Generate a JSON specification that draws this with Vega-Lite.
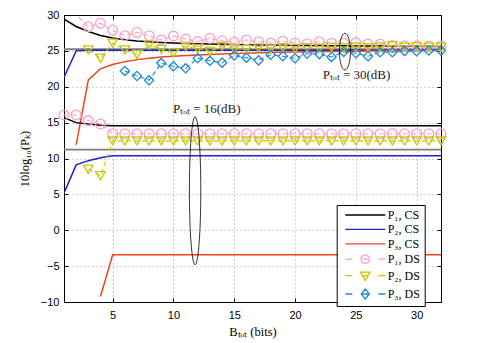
{
  "$schema": "https://vega.github.io/schema/vega-lite/v6.json",
  "width": 377,
  "height": 287,
  "autosize": "none",
  "padding": {"left": 64, "top": 15, "right": 44, "bottom": 41},
  "background": "white",
  "config": {"view": {"stroke": "black", "strokeWidth": 1}},
  "datasets": {
    "ref": [
      {"x": 1, "y": 25.23, "g": "30"}, {"x": 32, "y": 25.23, "g": "30"},
      {"x": 1, "y": 11.23, "g": "16"}, {"x": 32, "y": 11.23, "g": "16"}
    ],
    "cs": [
      {"s":"P₁, CS","g":"30","x":1,"y":29.44},{"s":"P₁, CS","g":"30","x":2,"y":28.4},{"s":"P₁, CS","g":"30","x":3,"y":27.7},{"s":"P₁, CS","g":"30","x":4,"y":27.15},{"s":"P₁, CS","g":"30","x":5,"y":26.8},{"s":"P₁, CS","g":"30","x":6,"y":26.55},{"s":"P₁, CS","g":"30","x":7,"y":26.38},{"s":"P₁, CS","g":"30","x":8,"y":26.26},{"s":"P₁, CS","g":"30","x":9,"y":26.17},{"s":"P₁, CS","g":"30","x":10,"y":26.1},{"s":"P₁, CS","g":"30","x":11,"y":26.04},{"s":"P₁, CS","g":"30","x":12,"y":25.99},{"s":"P₁, CS","g":"30","x":13,"y":25.95},{"s":"P₁, CS","g":"30","x":14,"y":25.91},{"s":"P₁, CS","g":"30","x":15,"y":25.88},{"s":"P₁, CS","g":"30","x":16,"y":25.85},{"s":"P₁, CS","g":"30","x":17,"y":25.82},{"s":"P₁, CS","g":"30","x":18,"y":25.8},{"s":"P₁, CS","g":"30","x":19,"y":25.78},{"s":"P₁, CS","g":"30","x":20,"y":25.76},{"s":"P₁, CS","g":"30","x":21,"y":25.74},{"s":"P₁, CS","g":"30","x":22,"y":25.72},{"s":"P₁, CS","g":"30","x":23,"y":25.71},{"s":"P₁, CS","g":"30","x":24,"y":25.7},{"s":"P₁, CS","g":"30","x":25,"y":25.69},{"s":"P₁, CS","g":"30","x":26,"y":25.68},{"s":"P₁, CS","g":"30","x":27,"y":25.67},{"s":"P₁, CS","g":"30","x":28,"y":25.66},{"s":"P₁, CS","g":"30","x":29,"y":25.65},{"s":"P₁, CS","g":"30","x":30,"y":25.64},{"s":"P₁, CS","g":"30","x":31,"y":25.63},{"s":"P₁, CS","g":"30","x":32,"y":25.62},
      {"s":"P₂, CS","g":"30","x":1,"y":21.32},{"s":"P₂, CS","g":"30","x":2,"y":25.0},{"s":"P₂, CS","g":"30","x":3,"y":25.08},{"s":"P₂, CS","g":"30","x":4,"y":25.08},{"s":"P₂, CS","g":"30","x":5,"y":25.08},{"s":"P₂, CS","g":"30","x":6,"y":25.08},{"s":"P₂, CS","g":"30","x":7,"y":25.08},{"s":"P₂, CS","g":"30","x":8,"y":25.08},{"s":"P₂, CS","g":"30","x":9,"y":25.08},{"s":"P₂, CS","g":"30","x":10,"y":25.08},{"s":"P₂, CS","g":"30","x":11,"y":25.08},{"s":"P₂, CS","g":"30","x":12,"y":25.08},{"s":"P₂, CS","g":"30","x":13,"y":25.08},{"s":"P₂, CS","g":"30","x":14,"y":25.08},{"s":"P₂, CS","g":"30","x":15,"y":25.08},{"s":"P₂, CS","g":"30","x":16,"y":25.08},{"s":"P₂, CS","g":"30","x":17,"y":25.08},{"s":"P₂, CS","g":"30","x":18,"y":25.08},{"s":"P₂, CS","g":"30","x":19,"y":25.08},{"s":"P₂, CS","g":"30","x":20,"y":25.08},{"s":"P₂, CS","g":"30","x":21,"y":25.08},{"s":"P₂, CS","g":"30","x":22,"y":25.08},{"s":"P₂, CS","g":"30","x":23,"y":25.08},{"s":"P₂, CS","g":"30","x":24,"y":25.08},{"s":"P₂, CS","g":"30","x":25,"y":25.08},{"s":"P₂, CS","g":"30","x":26,"y":25.08},{"s":"P₂, CS","g":"30","x":27,"y":25.08},{"s":"P₂, CS","g":"30","x":28,"y":25.08},{"s":"P₂, CS","g":"30","x":29,"y":25.08},{"s":"P₂, CS","g":"30","x":30,"y":25.08},{"s":"P₂, CS","g":"30","x":31,"y":25.08},{"s":"P₂, CS","g":"30","x":32,"y":25.08},
      {"s":"P₃, CS","g":"30","x":2,"y":11.9},{"s":"P₃, CS","g":"30","x":3,"y":20.95},{"s":"P₃, CS","g":"30","x":4,"y":22.5},{"s":"P₃, CS","g":"30","x":5,"y":23.1},{"s":"P₃, CS","g":"30","x":6,"y":23.5},{"s":"P₃, CS","g":"30","x":7,"y":23.78},{"s":"P₃, CS","g":"30","x":8,"y":23.98},{"s":"P₃, CS","g":"30","x":9,"y":24.13},{"s":"P₃, CS","g":"30","x":10,"y":24.25},{"s":"P₃, CS","g":"30","x":11,"y":24.35},{"s":"P₃, CS","g":"30","x":12,"y":24.44},{"s":"P₃, CS","g":"30","x":13,"y":24.51},{"s":"P₃, CS","g":"30","x":14,"y":24.57},{"s":"P₃, CS","g":"30","x":15,"y":24.63},{"s":"P₃, CS","g":"30","x":16,"y":24.68},{"s":"P₃, CS","g":"30","x":17,"y":24.73},{"s":"P₃, CS","g":"30","x":18,"y":24.77},{"s":"P₃, CS","g":"30","x":19,"y":24.81},{"s":"P₃, CS","g":"30","x":20,"y":24.84},{"s":"P₃, CS","g":"30","x":21,"y":24.87},{"s":"P₃, CS","g":"30","x":22,"y":24.9},{"s":"P₃, CS","g":"30","x":23,"y":24.92},{"s":"P₃, CS","g":"30","x":24,"y":24.94},{"s":"P₃, CS","g":"30","x":25,"y":24.96},{"s":"P₃, CS","g":"30","x":26,"y":24.98},{"s":"P₃, CS","g":"30","x":27,"y":25.0},{"s":"P₃, CS","g":"30","x":28,"y":25.01},{"s":"P₃, CS","g":"30","x":29,"y":25.03},{"s":"P₃, CS","g":"30","x":30,"y":25.04},{"s":"P₃, CS","g":"30","x":31,"y":25.05},{"s":"P₃, CS","g":"30","x":32,"y":25.06},
      {"s":"P₁, CS","g":"16","x":1,"y":15.7},{"s":"P₁, CS","g":"16","x":2,"y":15.0},{"s":"P₁, CS","g":"16","x":3,"y":14.8},{"s":"P₁, CS","g":"16","x":4,"y":14.65},{"s":"P₁, CS","g":"16","x":5,"y":14.57},{"s":"P₁, CS","g":"16","x":6,"y":14.57},{"s":"P₁, CS","g":"16","x":7,"y":14.57},{"s":"P₁, CS","g":"16","x":8,"y":14.57},{"s":"P₁, CS","g":"16","x":9,"y":14.57},{"s":"P₁, CS","g":"16","x":10,"y":14.57},{"s":"P₁, CS","g":"16","x":11,"y":14.57},{"s":"P₁, CS","g":"16","x":12,"y":14.57},{"s":"P₁, CS","g":"16","x":13,"y":14.57},{"s":"P₁, CS","g":"16","x":14,"y":14.57},{"s":"P₁, CS","g":"16","x":15,"y":14.57},{"s":"P₁, CS","g":"16","x":16,"y":14.57},{"s":"P₁, CS","g":"16","x":17,"y":14.57},{"s":"P₁, CS","g":"16","x":18,"y":14.57},{"s":"P₁, CS","g":"16","x":19,"y":14.57},{"s":"P₁, CS","g":"16","x":20,"y":14.57},{"s":"P₁, CS","g":"16","x":21,"y":14.57},{"s":"P₁, CS","g":"16","x":22,"y":14.57},{"s":"P₁, CS","g":"16","x":23,"y":14.57},{"s":"P₁, CS","g":"16","x":24,"y":14.57},{"s":"P₁, CS","g":"16","x":25,"y":14.57},{"s":"P₁, CS","g":"16","x":26,"y":14.57},{"s":"P₁, CS","g":"16","x":27,"y":14.57},{"s":"P₁, CS","g":"16","x":28,"y":14.57},{"s":"P₁, CS","g":"16","x":29,"y":14.57},{"s":"P₁, CS","g":"16","x":30,"y":14.57},{"s":"P₁, CS","g":"16","x":31,"y":14.57},{"s":"P₁, CS","g":"16","x":32,"y":14.57},
      {"s":"P₂, CS","g":"16","x":1,"y":5.17},{"s":"P₂, CS","g":"16","x":2,"y":9.11},{"s":"P₂, CS","g":"16","x":3,"y":9.7},{"s":"P₂, CS","g":"16","x":4,"y":10.1},{"s":"P₂, CS","g":"16","x":5,"y":10.38},{"s":"P₂, CS","g":"16","x":6,"y":10.38},{"s":"P₂, CS","g":"16","x":7,"y":10.38},{"s":"P₂, CS","g":"16","x":8,"y":10.38},{"s":"P₂, CS","g":"16","x":9,"y":10.38},{"s":"P₂, CS","g":"16","x":10,"y":10.38},{"s":"P₂, CS","g":"16","x":11,"y":10.38},{"s":"P₂, CS","g":"16","x":12,"y":10.38},{"s":"P₂, CS","g":"16","x":13,"y":10.38},{"s":"P₂, CS","g":"16","x":14,"y":10.38},{"s":"P₂, CS","g":"16","x":15,"y":10.38},{"s":"P₂, CS","g":"16","x":16,"y":10.38},{"s":"P₂, CS","g":"16","x":17,"y":10.38},{"s":"P₂, CS","g":"16","x":18,"y":10.38},{"s":"P₂, CS","g":"16","x":19,"y":10.38},{"s":"P₂, CS","g":"16","x":20,"y":10.38},{"s":"P₂, CS","g":"16","x":21,"y":10.38},{"s":"P₂, CS","g":"16","x":22,"y":10.38},{"s":"P₂, CS","g":"16","x":23,"y":10.38},{"s":"P₂, CS","g":"16","x":24,"y":10.38},{"s":"P₂, CS","g":"16","x":25,"y":10.38},{"s":"P₂, CS","g":"16","x":26,"y":10.38},{"s":"P₂, CS","g":"16","x":27,"y":10.38},{"s":"P₂, CS","g":"16","x":28,"y":10.38},{"s":"P₂, CS","g":"16","x":29,"y":10.38},{"s":"P₂, CS","g":"16","x":30,"y":10.38},{"s":"P₂, CS","g":"16","x":31,"y":10.38},{"s":"P₂, CS","g":"16","x":32,"y":10.38},
      {"s":"P₃, CS","g":"16","x":4,"y":-9.23},{"s":"P₃, CS","g":"16","x":5,"y":-3.43},{"s":"P₃, CS","g":"16","x":6,"y":-3.43},{"s":"P₃, CS","g":"16","x":7,"y":-3.43},{"s":"P₃, CS","g":"16","x":8,"y":-3.43},{"s":"P₃, CS","g":"16","x":9,"y":-3.43},{"s":"P₃, CS","g":"16","x":10,"y":-3.43},{"s":"P₃, CS","g":"16","x":11,"y":-3.43},{"s":"P₃, CS","g":"16","x":12,"y":-3.43},{"s":"P₃, CS","g":"16","x":13,"y":-3.43},{"s":"P₃, CS","g":"16","x":14,"y":-3.43},{"s":"P₃, CS","g":"16","x":15,"y":-3.43},{"s":"P₃, CS","g":"16","x":16,"y":-3.43},{"s":"P₃, CS","g":"16","x":17,"y":-3.43},{"s":"P₃, CS","g":"16","x":18,"y":-3.43},{"s":"P₃, CS","g":"16","x":19,"y":-3.43},{"s":"P₃, CS","g":"16","x":20,"y":-3.43},{"s":"P₃, CS","g":"16","x":21,"y":-3.43},{"s":"P₃, CS","g":"16","x":22,"y":-3.43},{"s":"P₃, CS","g":"16","x":23,"y":-3.43},{"s":"P₃, CS","g":"16","x":24,"y":-3.43},{"s":"P₃, CS","g":"16","x":25,"y":-3.43},{"s":"P₃, CS","g":"16","x":26,"y":-3.43},{"s":"P₃, CS","g":"16","x":27,"y":-3.43},{"s":"P₃, CS","g":"16","x":28,"y":-3.43},{"s":"P₃, CS","g":"16","x":29,"y":-3.43},{"s":"P₃, CS","g":"16","x":30,"y":-3.43},{"s":"P₃, CS","g":"16","x":31,"y":-3.43},{"s":"P₃, CS","g":"16","x":32,"y":-3.43}
    ],
    "ds": [
      {"s":"P₁, DS","g":"30","x":1,"y":30.1},{"s":"P₁, DS","g":"30","x":2,"y":30.1},{"s":"P₁, DS","g":"30","x":3,"y":28.37},{"s":"P₁, DS","g":"30","x":4,"y":28.84},{"s":"P₁, DS","g":"30","x":5,"y":27.9},{"s":"P₁, DS","g":"30","x":6,"y":27.12},{"s":"P₁, DS","g":"30","x":7,"y":27.59},{"s":"P₁, DS","g":"30","x":8,"y":27.12},{"s":"P₁, DS","g":"30","x":9,"y":26.52},{"s":"P₁, DS","g":"30","x":10,"y":27.08},{"s":"P₁, DS","g":"30","x":11,"y":26.64},{"s":"P₁, DS","g":"30","x":12,"y":26.3},{"s":"P₁, DS","g":"30","x":13,"y":26.75},{"s":"P₁, DS","g":"30","x":14,"y":26.4},{"s":"P₁, DS","g":"30","x":15,"y":26.2},{"s":"P₁, DS","g":"30","x":16,"y":26.52},{"s":"P₁, DS","g":"30","x":17,"y":26.28},{"s":"P₁, DS","g":"30","x":18,"y":26.1},{"s":"P₁, DS","g":"30","x":19,"y":26.35},{"s":"P₁, DS","g":"30","x":20,"y":26.1},{"s":"P₁, DS","g":"30","x":21,"y":26.0},{"s":"P₁, DS","g":"30","x":22,"y":26.28},{"s":"P₁, DS","g":"30","x":23,"y":26.06},{"s":"P₁, DS","g":"30","x":24,"y":26.06},{"s":"P₁, DS","g":"30","x":25,"y":26.15},{"s":"P₁, DS","g":"30","x":26,"y":25.95},{"s":"P₁, DS","g":"30","x":27,"y":25.92},{"s":"P₁, DS","g":"30","x":28,"y":25.75},{"s":"P₁, DS","g":"30","x":29,"y":25.7},{"s":"P₁, DS","g":"30","x":30,"y":25.7},{"s":"P₁, DS","g":"30","x":31,"y":25.65},{"s":"P₁, DS","g":"30","x":32,"y":25.65},
      {"s":"P₂, DS","g":"30","x":3,"y":25.13},{"s":"P₂, DS","g":"30","x":4,"y":23.97},{"s":"P₂, DS","g":"30","x":5,"y":26.06},{"s":"P₂, DS","g":"30","x":6,"y":25.13},{"s":"P₂, DS","g":"30","x":7,"y":24.5},{"s":"P₂, DS","g":"30","x":8,"y":25.82},{"s":"P₂, DS","g":"30","x":9,"y":25.2},{"s":"P₂, DS","g":"30","x":10,"y":24.75},{"s":"P₂, DS","g":"30","x":11,"y":25.62},{"s":"P₂, DS","g":"30","x":12,"y":25.3},{"s":"P₂, DS","g":"30","x":13,"y":24.95},{"s":"P₂, DS","g":"30","x":14,"y":25.62},{"s":"P₂, DS","g":"30","x":15,"y":25.3},{"s":"P₂, DS","g":"30","x":16,"y":25.2},{"s":"P₂, DS","g":"30","x":17,"y":25.4},{"s":"P₂, DS","g":"30","x":18,"y":25.2},{"s":"P₂, DS","g":"30","x":19,"y":25.45},{"s":"P₂, DS","g":"30","x":20,"y":25.3},{"s":"P₂, DS","g":"30","x":21,"y":25.45},{"s":"P₂, DS","g":"30","x":22,"y":25.35},{"s":"P₂, DS","g":"30","x":23,"y":25.5},{"s":"P₂, DS","g":"30","x":24,"y":25.4},{"s":"P₂, DS","g":"30","x":25,"y":25.5},{"s":"P₂, DS","g":"30","x":26,"y":25.45},{"s":"P₂, DS","g":"30","x":27,"y":25.55},{"s":"P₂, DS","g":"30","x":28,"y":25.7},{"s":"P₂, DS","g":"30","x":29,"y":25.5},{"s":"P₂, DS","g":"30","x":30,"y":25.55},{"s":"P₂, DS","g":"30","x":31,"y":25.5},{"s":"P₂, DS","g":"30","x":32,"y":25.5},
      {"s":"P₃, DS","g":"30","x":6,"y":22.2},{"s":"P₃, DS","g":"30","x":7,"y":21.5},{"s":"P₃, DS","g":"30","x":8,"y":20.9},{"s":"P₃, DS","g":"30","x":9,"y":23.3},{"s":"P₃, DS","g":"30","x":10,"y":22.85},{"s":"P₃, DS","g":"30","x":11,"y":22.57},{"s":"P₃, DS","g":"30","x":12,"y":23.97},{"s":"P₃, DS","g":"30","x":13,"y":23.62},{"s":"P₃, DS","g":"30","x":14,"y":23.36},{"s":"P₃, DS","g":"30","x":15,"y":24.35},{"s":"P₃, DS","g":"30","x":16,"y":24.05},{"s":"P₃, DS","g":"30","x":17,"y":23.68},{"s":"P₃, DS","g":"30","x":18,"y":24.45},{"s":"P₃, DS","g":"30","x":19,"y":24.25},{"s":"P₃, DS","g":"30","x":20,"y":23.97},{"s":"P₃, DS","g":"30","x":21,"y":24.6},{"s":"P₃, DS","g":"30","x":22,"y":24.55},{"s":"P₃, DS","g":"30","x":23,"y":24.15},{"s":"P₃, DS","g":"30","x":24,"y":24.85},{"s":"P₃, DS","g":"30","x":25,"y":24.67},{"s":"P₃, DS","g":"30","x":26,"y":24.25},{"s":"P₃, DS","g":"30","x":27,"y":24.8},{"s":"P₃, DS","g":"30","x":28,"y":24.8},{"s":"P₃, DS","g":"30","x":29,"y":25.0},{"s":"P₃, DS","g":"30","x":30,"y":24.95},{"s":"P₃, DS","g":"30","x":31,"y":25.05},{"s":"P₃, DS","g":"30","x":32,"y":25.05},
      {"s":"P₁, DS","g":"16","x":1,"y":16.07},{"s":"P₁, DS","g":"16","x":2,"y":16.07},{"s":"P₁, DS","g":"16","x":3,"y":15.28},{"s":"P₁, DS","g":"16","x":4,"y":14.82},{"s":"P₁, DS","g":"16","x":5,"y":13.45},{"s":"P₁, DS","g":"16","x":6,"y":13.45},{"s":"P₁, DS","g":"16","x":7,"y":13.45},{"s":"P₁, DS","g":"16","x":8,"y":13.45},{"s":"P₁, DS","g":"16","x":9,"y":13.45},{"s":"P₁, DS","g":"16","x":10,"y":13.45},{"s":"P₁, DS","g":"16","x":11,"y":13.45},{"s":"P₁, DS","g":"16","x":12,"y":13.45},{"s":"P₁, DS","g":"16","x":13,"y":13.45},{"s":"P₁, DS","g":"16","x":14,"y":13.45},{"s":"P₁, DS","g":"16","x":15,"y":13.45},{"s":"P₁, DS","g":"16","x":16,"y":13.45},{"s":"P₁, DS","g":"16","x":17,"y":13.45},{"s":"P₁, DS","g":"16","x":18,"y":13.45},{"s":"P₁, DS","g":"16","x":19,"y":13.45},{"s":"P₁, DS","g":"16","x":20,"y":13.45},{"s":"P₁, DS","g":"16","x":21,"y":13.45},{"s":"P₁, DS","g":"16","x":22,"y":13.45},{"s":"P₁, DS","g":"16","x":23,"y":13.45},{"s":"P₁, DS","g":"16","x":24,"y":13.45},{"s":"P₁, DS","g":"16","x":25,"y":13.45},{"s":"P₁, DS","g":"16","x":26,"y":13.45},{"s":"P₁, DS","g":"16","x":27,"y":13.45},{"s":"P₁, DS","g":"16","x":28,"y":13.45},{"s":"P₁, DS","g":"16","x":29,"y":13.45},{"s":"P₁, DS","g":"16","x":30,"y":13.45},{"s":"P₁, DS","g":"16","x":31,"y":13.45},{"s":"P₁, DS","g":"16","x":32,"y":13.45},
      {"s":"P₂, DS","g":"16","x":3,"y":8.5},{"s":"P₂, DS","g":"16","x":4,"y":7.6},{"s":"P₂, DS","g":"16","x":5,"y":12.45},{"s":"P₂, DS","g":"16","x":6,"y":12.45},{"s":"P₂, DS","g":"16","x":7,"y":12.45},{"s":"P₂, DS","g":"16","x":8,"y":12.45},{"s":"P₂, DS","g":"16","x":9,"y":12.45},{"s":"P₂, DS","g":"16","x":10,"y":12.45},{"s":"P₂, DS","g":"16","x":11,"y":12.45},{"s":"P₂, DS","g":"16","x":12,"y":12.45},{"s":"P₂, DS","g":"16","x":13,"y":12.45},{"s":"P₂, DS","g":"16","x":14,"y":12.45},{"s":"P₂, DS","g":"16","x":15,"y":12.45},{"s":"P₂, DS","g":"16","x":16,"y":12.45},{"s":"P₂, DS","g":"16","x":17,"y":12.45},{"s":"P₂, DS","g":"16","x":18,"y":12.45},{"s":"P₂, DS","g":"16","x":19,"y":12.45},{"s":"P₂, DS","g":"16","x":20,"y":12.45},{"s":"P₂, DS","g":"16","x":21,"y":12.45},{"s":"P₂, DS","g":"16","x":22,"y":12.45},{"s":"P₂, DS","g":"16","x":23,"y":12.45},{"s":"P₂, DS","g":"16","x":24,"y":12.45},{"s":"P₂, DS","g":"16","x":25,"y":12.45},{"s":"P₂, DS","g":"16","x":26,"y":12.45},{"s":"P₂, DS","g":"16","x":27,"y":12.45},{"s":"P₂, DS","g":"16","x":28,"y":12.45},{"s":"P₂, DS","g":"16","x":29,"y":12.45},{"s":"P₂, DS","g":"16","x":30,"y":12.45},{"s":"P₂, DS","g":"16","x":31,"y":12.45},{"s":"P₂, DS","g":"16","x":32,"y":12.45}
    ],
    "ann": [
      {"k": "a", "x": 24.1, "y": 24.9},
      {"k": "b", "x": 11.78, "y": 5.5}
    ],
    "lab": [
      {"x": 25.05, "y": 21.6, "t": "Pₜₒₜ = 30(dB)"},
      {"x": 12.74, "y": 16.9, "t": "Pₜₒₜ = 16(dB)"}
    ]
  },
  "encoding": {
    "x": {"field": "x", "type": "quantitative", "scale": {"domain": [1, 32], "nice": false, "zero": false}, "axis": null},
    "y": {"field": "y", "type": "quantitative", "scale": {"domain": [-10, 30], "nice": false, "zero": false}, "axis": null}
  },
  "layer": [
    {
      "data": {"name": "ref"},
      "mark": {"type": "line", "color": "#7f7f7f", "strokeWidth": 1.8},
      "encoding": {
        "detail": {"field": "g"},
        "x": {"field": "x", "type": "quantitative", "scale": {"domain": [1, 32], "nice": false, "zero": false},
          "axis": {"orient": "bottom", "values": [5, 10, 15, 20, 25, 30], "title": "Bₜₒₜ (bits)", "grid": true, "gridDash": [1, 3], "gridColor": "#888888", "gridWidth": 0.8,
            "tickSize": -4, "tickColor": "black", "domainColor": "black", "labelFont": "Liberation Sans", "labelFontSize": 11, "labelColor": "black",
            "labelPadding": 11, "titleFont": "Liberation Serif", "titleFontSize": 12.5, "titleFontWeight": "normal", "titleColor": "black", "titlePadding": 5}},
        "y": {"field": "y", "type": "quantitative", "scale": {"domain": [-10, 30], "nice": false, "zero": false},
          "axis": {"orient": "left", "values": [-10, -5, 0, 5, 10, 15, 20, 25, 30], "title": "10log₁₀(Pₖ)", "grid": true, "gridDash": [1, 3], "gridColor": "#888888", "gridWidth": 0.8,
            "tickSize": -4, "tickColor": "black", "domainColor": "black", "labelFont": "Liberation Sans", "labelFontSize": 11, "labelColor": "black",
            "labelPadding": 9, "titleFont": "Liberation Serif", "titleFontSize": 12.5, "titleFontWeight": "normal", "titleColor": "black", "titlePadding": 9}}
      }
    },
    {
      "data": {"name": "ds"},
      "transform": [{"filter": "datum.x > 100"}],
      "mark": {"type": "point", "filled": false, "opacity": 1, "strokeWidth": 1.3},
      "encoding": {
        "x": {"field": "x", "type": "quantitative", "scale": {"domain": [1, 32], "nice": false, "zero": false},
          "axis": {"orient": "top", "values": [5, 10, 15, 20, 25, 30], "labels": false, "grid": false, "tickSize": -4, "tickColor": "black", "domainColor": "black", "title": null}},
        "y": {"field": "y", "type": "quantitative", "scale": {"domain": [-10, 30], "nice": false, "zero": false},
          "axis": {"orient": "right", "values": [-10, -5, 0, 5, 10, 15, 20, 25, 30], "labels": false, "grid": false, "tickSize": -4, "tickColor": "black", "domainColor": "black", "title": null}},
        "color": {"field": "s", "type": "nominal",
          "scale": {"domain": ["P₁, CS", "P₂, CS", "P₃, CS", "P₁, DS", "P₂, DS", "P₃, DS"], "range": ["#000000", "#1f1fd6", "#ee4420", "#ff9ec8", "#c9c900", "#1e8ad6"]},
          "legend": {"title": null, "orient": "none", "legendX": 272.7, "legendY": 190, "strokeColor": "black", "fillColor": "white", "padding": 4,
            "symbolSize": 100, "symbolOffset": 18.6, "labelOffset": 16.4, "labelFont": "Liberation Serif", "labelFontSize": 12, "labelColor": "black",
            "rowPadding": 2.4, "symbolStrokeWidth": 1.3}},
        "shape": {"field": "s", "type": "nominal",
          "scale": {"domain": ["P₁, CS", "P₂, CS", "P₃, CS", "P₁, DS", "P₂, DS", "P₃, DS"],
            "range": [
              "M-4,0H4",
              "M-4,0H4",
              "M-4,0H4",
              "M-4,0H-2.6M2.6,0H4M-0.6,0H0.6M-0.85,0C-0.85,-0.47,-0.47,-0.85,0,-0.85C0.47,-0.85,0.85,-0.47,0.85,0C0.85,0.47,0.47,0.85,0,0.85C-0.47,0.85,-0.85,0.47,-0.85,0Z",
              "M-4,0H-2.6M2.6,0H4M-0.6,0H0.6M-0.95,-0.7L0.95,-0.7L0,0.95Z",
              "M-4,0H-2.6M2.6,0H4M-0.6,0H0.6M0,-1L0.8,0L0,1L-0.8,0Z"
            ]}}
      }
    },
    {
      "data": {"name": "cs"},
      "mark": {"type": "line", "strokeWidth": 1.5, "clip": true},
      "encoding": {
        "color": {"field": "s", "type": "nominal"},
        "detail": {"field": "g"},
        "order": {"field": "x"}
      }
    },
    {
      "data": {"name": "ds"},
      "mark": {"type": "line", "strokeWidth": 1.1, "strokeDash": [5, 3], "clip": true},
      "encoding": {
        "color": {"field": "s", "type": "nominal"},
        "detail": {"field": "g"},
        "order": {"field": "x"}
      }
    },
    {
      "data": {"name": "ds"},
      "transform": [{"filter": "datum.s === 'P₁, DS' && datum.y < 30"}],
      "mark": {"type": "point", "shape": "circle", "size": 95, "filled": false, "opacity": 1, "strokeWidth": 1.3},
      "encoding": {"color": {"field": "s", "type": "nominal"}}
    },
    {
      "data": {"name": "ds"},
      "transform": [{"filter": "datum.s === 'P₂, DS'"}],
      "mark": {"type": "point", "shape": "triangle-down", "size": 90, "filled": false, "opacity": 1, "strokeWidth": 1.3},
      "encoding": {"color": {"field": "s", "type": "nominal"}}
    },
    {
      "data": {"name": "ds"},
      "transform": [{"filter": "datum.s === 'P₃, DS'"}],
      "mark": {"type": "point", "shape": "diamond", "size": 85, "filled": false, "opacity": 1, "strokeWidth": 1.3},
      "encoding": {"color": {"field": "s", "type": "nominal"}}
    },
    {
      "data": {"name": "ann"},
      "transform": [{"filter": "datum.k === 'a'"}],
      "mark": {"type": "point", "filled": false, "opacity": 1, "color": "black", "strokeWidth": 0.8, "size": 1347,
        "shape": "M0,-1C0.166,-1,0.3,-0.552,0.3,0C0.3,0.552,0.166,1,0,1C-0.166,1,-0.3,0.552,-0.3,0C-0.3,-0.552,-0.166,-1,0,-1Z"}
    },
    {
      "data": {"name": "ann"},
      "transform": [{"filter": "datum.k === 'b'"}],
      "mark": {"type": "point", "filled": false, "opacity": 1, "color": "black", "strokeWidth": 0.8, "size": 21904,
        "shape": "M0,-1C0.0425,-1,0.077,-0.552,0.077,0C0.077,0.552,0.0425,1,0,1C-0.0425,1,-0.077,0.552,-0.077,0C-0.077,-0.552,-0.0425,-1,0,-1Z"}
    },
    {
      "data": {"name": "lab"},
      "mark": {"type": "text", "font": "Liberation Serif", "fontSize": 13, "color": "#222222", "align": "center", "baseline": "middle"},
      "encoding": {"text": {"field": "t"}}
    }
  ]
}
